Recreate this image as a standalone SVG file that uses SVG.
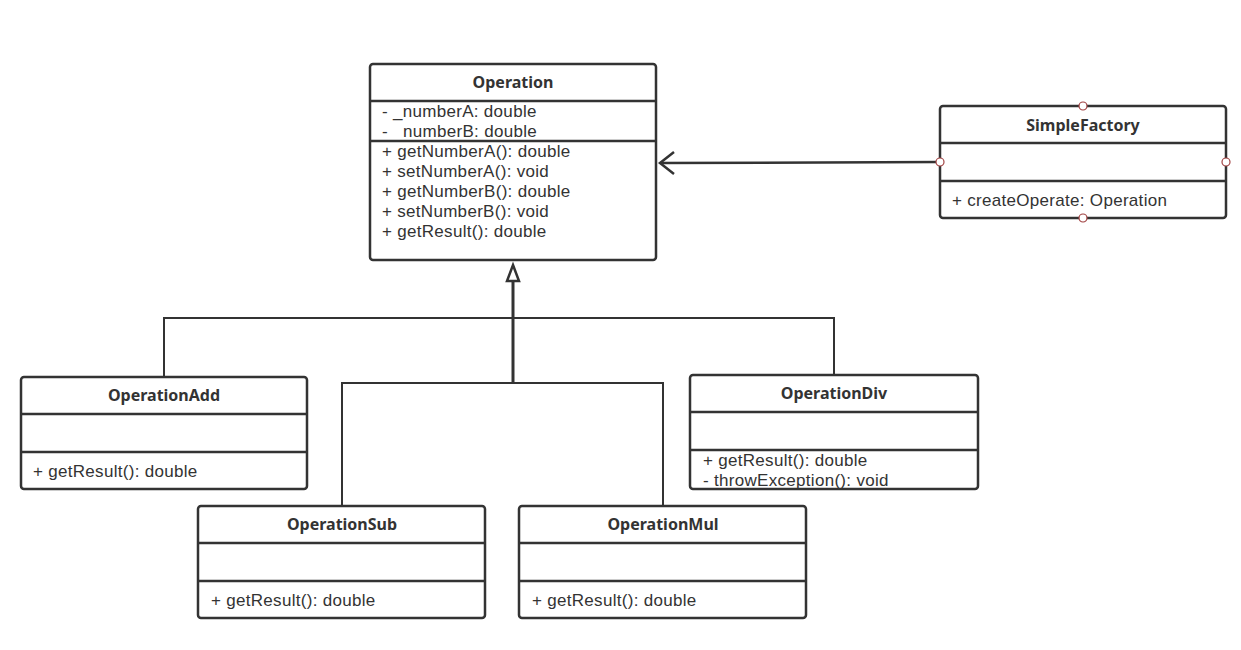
<svg xmlns="http://www.w3.org/2000/svg" width="1241" height="650" viewBox="0 0 1241 650">
<style>
.box{fill:#fff;stroke:#333;stroke-width:2.5}
.sep{stroke:#333;stroke-width:2.5}
.t{font-family:"Liberation Sans",Arial,sans-serif;font-size:17px;letter-spacing:0.3px;fill:#333}
.h{font-family:"Noto Sans","Open Sans","Liberation Sans",sans-serif;font-size:16px;font-weight:bold;fill:#333;text-anchor:middle}
.c{fill:none;stroke:#333;stroke-width:2}
.pt{fill:#fff;stroke:#a04040;stroke-width:1.2}
</style>
<rect width="1241" height="650" fill="#fff"/>
<g id="connectors">
<polyline class="c" points="164,377 164,318 834,318 834,375"/>
<polyline class="c" points="342,506 342,383 663,383 663,506"/>
<line x1="513" y1="383" x2="513" y2="280" stroke="#333" stroke-width="3"/>
<polygon points="513,265 519,281 507,281" fill="#fff" stroke="#333" stroke-width="2.5" stroke-linejoin="miter"/>
<line x1="940" y1="162" x2="660" y2="163" stroke="#333" stroke-width="2.5"/>
<polyline points="674,152 660,163 674,174" fill="none" stroke="#333" stroke-width="2.5"/>
</g>
<g id="Operation">
<rect class="box" x="370" y="64" width="286" height="196" rx="3"/>
<line class="sep" x1="370" y1="101" x2="656" y2="101"/>
<line class="sep" x1="370" y1="141" x2="656" y2="141"/>
<text class="h" x="513" y="88">Operation</text>
<text class="t" x="382" y="117">- _numberA: double</text>
<text class="t" x="382" y="137" xml:space="preserve">-   numberB: double</text>
<text class="t" x="382" y="157">+ getNumberA(): double</text>
<text class="t" x="382" y="177">+ setNumberA(): void</text>
<text class="t" x="382" y="197">+ getNumberB(): double</text>
<text class="t" x="382" y="217">+ setNumberB(): void</text>
<text class="t" x="382" y="237">+ getResult(): double</text>
</g>
<g id="SimpleFactory">
<rect class="box" x="940" y="106" width="286" height="112" rx="3"/>
<line class="sep" x1="940" y1="143" x2="1226" y2="143"/>
<line class="sep" x1="940" y1="181" x2="1226" y2="181"/>
<text class="h" x="1083" y="131">SimpleFactory</text>
<text class="t" x="952" y="206">+ createOperate: Operation</text>
<circle class="pt" cx="1083" cy="106" r="4"/>
<circle class="pt" cx="1083" cy="218" r="4"/>
<circle class="pt" cx="940" cy="162" r="4"/>
<circle class="pt" cx="1226" cy="162" r="4"/>
</g>
<g id="OperationAdd">
<rect class="box" x="21" y="377" width="286" height="112" rx="3"/>
<line class="sep" x1="21" y1="414" x2="307" y2="414"/>
<line class="sep" x1="21" y1="452" x2="307" y2="452"/>
<text class="h" x="164" y="401">OperationAdd</text>
<text class="t" x="33" y="477">+ getResult(): double</text>
</g>
<g id="OperationDiv">
<rect class="box" x="690" y="375" width="288" height="114" rx="3"/>
<line class="sep" x1="690" y1="412" x2="978" y2="412"/>
<line class="sep" x1="690" y1="450" x2="978" y2="450"/>
<text class="h" x="834" y="399">OperationDiv</text>
<text class="t" x="703" y="466">+ getResult(): double</text>
<text class="t" x="703" y="486">- throwException(): void</text>
</g>
<g id="OperationSub">
<rect class="box" x="198" y="506" width="287" height="112" rx="3"/>
<line class="sep" x1="198" y1="543" x2="485" y2="543"/>
<line class="sep" x1="198" y1="581" x2="485" y2="581"/>
<text class="h" x="342" y="530">OperationSub</text>
<text class="t" x="211" y="606">+ getResult(): double</text>
</g>
<g id="OperationMul">
<rect class="box" x="519" y="506" width="287" height="112" rx="3"/>
<line class="sep" x1="519" y1="543" x2="806" y2="543"/>
<line class="sep" x1="519" y1="581" x2="806" y2="581"/>
<text class="h" x="663" y="530">OperationMul</text>
<text class="t" x="532" y="606">+ getResult(): double</text>
</g>
</svg>
